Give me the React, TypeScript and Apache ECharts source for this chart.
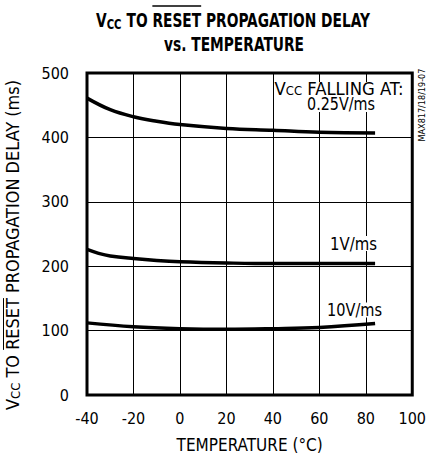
import React, { useEffect, useRef } from "react";
import * as echarts from "echarts";

const FONT = '"DejaVu Sans Condensed", "DejaVu Sans", sans-serif';
const SP = "\u00A0";

const xTickValues = [-40, -20, 0, 20, 40, 60, 80, 100];
const yTickValues = [0, 100, 200, 300, 400, 500];

const temp025 = [-40, -30, -20, -10, 0, 20, 40, 60, 84];
const delay025 = [461, 443, 432, 425, 420, 414, 411, 408, 407];

const temp1 = [-40, -35, -30, -20, -10, 0, 20, 40, 60, 84];
const delay1 = [226, 220, 216, 212, 209, 207, 205, 204, 204, 204];

const temp10 = [-40, -20, 0, 20, 40, 60, 84];
const delay10 = [112, 106, 103, 102, 103, 105, 111];

const seriesNames = ["0.25V/ms", "1V/ms", "10V/ms"];

function pairs(xs: number[], ys: number[]) {
  return xs.map((x, i) => [x, ys[i]]);
}

let measureCtx: CanvasRenderingContext2D | null = null;
function mw(text: string, size: number, bold = false) {
  if (!measureCtx) measureCtx = document.createElement("canvas").getContext("2d");
  if (!measureCtx) return text.length * size * 0.5;
  measureCtx.font = `${bold ? "bold " : ""}${size}px ${FONT}`;
  return measureCtx.measureText(text).width;
}

export default function App() {
  const ref = useRef<HTMLDivElement>(null);
  useEffect(() => {
    if (!ref.current) return;
    const chart = echarts.init(ref.current, undefined, { renderer: "svg" });
    const lineStyle = { color: "#000", width: 3.5 };
    const mkSeries = (name: string, xs: number[], ys: number[]) => ({
      type: "line",
      name,
      data: pairs(xs, ys),
      smooth: 0.4,
      showSymbol: false,
      lineStyle,
      z: 5,
    });

    // Title line 1 (horizontally scaled to mimic a condensed black face)
    const tB = 19, tS = 14;
    const t1a = "V", t1b = "CC", t1c = SP + "TO RESET PROPAGATION DELAY";
    const W1 = mw(t1a, tB, true) + mw(t1b, tS, true) + mw(t1c, tB, true);
    const titleCx = 233;
    const kT = 274 / W1;
    const resetStartT =
      titleCx - (kT * W1) / 2 + kT * (mw(t1a, tB, true) + mw(t1b, tS, true) + mw(SP + "TO ", tB, true));
    const resetEndT = resetStartT + kT * mw("RESET", tB, true);

    // Y axis title
    const yB = 18, yS = 13;
    const ya = "V", yb = "CC", yc = SP + "TO RESET PROPAGATION DELAY (ms)";
    const WY = mw(ya, yB) + mw(yb, yS) + mw(yc, yB);
    const kY = 330 / WY;
    const yCy = 245, yCx = 12;
    const sL = -WY / 2 + mw(ya, yB) + mw(yb, yS) + mw(SP + "TO ", yB);
    const eL = sL + mw("RESET", yB);

    // annotations
    const aB = 17, aS = 12;
    const fallW = mw("V", aB) + mw("CC", aS) + mw(SP + "FALLING AT:", aB);
    const plain = (id: string, text: string, cx: number, cy: number, target: number) => ({
      id,
      type: "text",
      x: cx,
      y: cy,
      scaleX: target / mw(text, aB),
      z: 10,
      style: {
        text,
        align: "center",
        verticalAlign: "middle",
        fontFamily: FONT,
        fontSize: aB,
        lineHeight: 15,
        fill: "#000",
        backgroundColor: "#fff",
      },
    });

    chart.setOption({
      animation: false,
      backgroundColor: "#fff",
      grid: {
        left: 87,
        right: 15,
        top: 73,
        bottom: 59,
        show: true,
        borderColor: "#000",
        borderWidth: 3,
        backgroundColor: "transparent",
      },
      xAxis: {
        type: "value",
        min: xTickValues[0],
        max: xTickValues[xTickValues.length - 1],
        interval: 20,
        axisLine: { show: false },
        axisTick: { show: false },
        splitLine: { show: true, lineStyle: { color: "#000", width: 1 } },
        axisLabel: {
          color: "#000",
          fontFamily: FONT,
          fontSize: 16,
          margin: 15,
          showMinLabel: true,
          showMaxLabel: true,
        },
        name: "TEMPERATURE (°C)",
        nameLocation: "middle",
        nameGap: 41,
        nameTextStyle: { color: "#000", fontFamily: FONT, fontSize: 17 },
      },
      yAxis: {
        type: "value",
        min: yTickValues[0],
        max: yTickValues[yTickValues.length - 1],
        interval: 100,
        axisLine: { show: false },
        axisTick: { show: false },
        splitLine: { show: true, lineStyle: { color: "#000", width: 1 } },
        axisLabel: { color: "#000", fontFamily: FONT, fontSize: 16, margin: 18 },
      },
      series: [
        mkSeries(seriesNames[0], temp025, delay025),
        mkSeries(seriesNames[1], temp1, delay1),
        mkSeries(seriesNames[2], temp10, delay10),
      ],
      graphic: [
        {
          id: "title1",
          type: "text",
          x: titleCx,
          y: 20,
          scaleX: kT,
          z: 10,
          style: {
            text: `{b|${t1a}}{s|${t1b}}{b|${t1c}}`,
            align: "center",
            verticalAlign: "middle",
            rich: {
              b: { fontFamily: FONT, fontWeight: "bold", fontSize: tB, lineHeight: 22, fill: "#000" },
              s: { fontFamily: FONT, fontWeight: "bold", fontSize: tS, lineHeight: 14, verticalAlign: "bottom", fill: "#000" },
            },
          },
        },
        {
          id: "title2",
          type: "text",
          x: 234,
          y: 44,
          scaleX: kT,
          z: 10,
          style: {
            text: "vs. TEMPERATURE",
            align: "center",
            verticalAlign: "middle",
            fontFamily: FONT,
            fontWeight: "bold",
            fontSize: tB,
            fill: "#000",
          },
        },
        {
          id: "olTitle",
          type: "line",
          z: 10,
          shape: { x1: resetStartT, y1: 6, x2: resetEndT, y2: 6 },
          style: { stroke: "#000", lineWidth: 1.5 },
        },
        {
          id: "ytitle",
          type: "text",
          x: yCx,
          y: yCy,
          rotation: Math.PI / 2,
          scaleX: kY,
          z: 10,
          style: {
            text: `{n|${ya}}{s|${yb}}{n|${yc}}`,
            align: "center",
            verticalAlign: "middle",
            rich: {
              n: { fontFamily: FONT, fontSize: yB, lineHeight: 20, fill: "#000" },
              s: { fontFamily: FONT, fontSize: yS, lineHeight: 13, verticalAlign: "bottom", fill: "#000" },
            },
          },
        },
        {
          id: "olY",
          type: "line",
          z: 10,
          shape: { x1: 3.5, y1: yCy - kY * sL, x2: 3.5, y2: yCy - kY * eL },
          style: { stroke: "#000", lineWidth: 1 },
        },
        {
          id: "falling",
          type: "text",
          x: 339,
          y: 89.5,
          scaleX: 129 / fallW,
          z: 10,
          style: {
            text: `{n|V}{s|CC}{n|${SP}FALLING AT:}`,
            align: "center",
            verticalAlign: "middle",
            backgroundColor: "#fff",
            rich: {
              n: { fontFamily: FONT, fontSize: aB, lineHeight: 15, fill: "#000" },
              s: { fontFamily: FONT, fontSize: aS, lineHeight: 12, verticalAlign: "bottom", fill: "#000" },
            },
          },
        },
        plain("lab0", seriesNames[0], 341, 104.5, 68),
        plain("lab1", seriesNames[1], 353.5, 243.5, 47),
        plain("lab2", seriesNames[2], 354.5, 310, 55),
        {
          id: "code",
          type: "text",
          x: 422,
          y: 105,
          rotation: Math.PI / 2,
          z: 10,
          style: {
            text: "MAX817/18/19-07",
            align: "center",
            verticalAlign: "middle",
            fontFamily: FONT,
            fontSize: 9,
            fill: "#000",
          },
        },
      ],
    });

    // Align the overlines with the actually rendered "RESET" glyphs.
    try {
      const svg = ref.current.querySelector("svg");
      if (svg) {
        const texts = Array.from(svg.querySelectorAll("text")) as SVGTextElement[];
        const locate = (pred: (s: string) => boolean) => {
          const el = texts.find((t) => pred(t.textContent || ""));
          if (!el) return null;
          const str = el.textContent || "";
          const i = str.indexOf("RESET");
          if (i < 0) return null;
          const s = el.getStartPositionOfChar(i);
          const e = el.getEndPositionOfChar(i + 4);
          const m = el.getCTM();
          if (!m) return null;
          const p1 = new DOMPoint(s.x, s.y).matrixTransform(m as any);
          const p2 = new DOMPoint(e.x, e.y).matrixTransform(m as any);
          return [p1, p2];
        };
        const rt = locate((s) => s.includes("RESET") && !s.includes("(ms)"));
        const ry = locate((s) => s.includes("RESET") && s.includes("(ms)"));
        const upd: any[] = [];
        if (rt) upd.push({ id: "olTitle", shape: { x1: rt[0].x, y1: 6, x2: rt[1].x, y2: 6 } });
        if (ry) upd.push({ id: "olY", shape: { x1: 3.5, y1: ry[0].y, x2: 3.5, y2: ry[1].y } });
        if (upd.length) chart.setOption({ graphic: upd });
      }
    } catch (err) {
      // keep canvas-measured fallback
    }
    return () => chart.dispose();
  }, []);
  return <div ref={ref} style={{ width: 429, height: 458, position: "absolute", left: 0, top: 0 }} />;
}
